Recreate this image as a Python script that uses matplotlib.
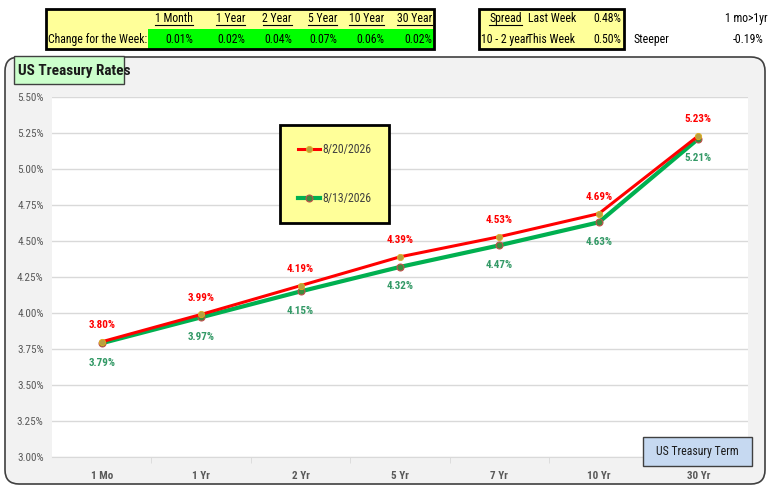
import matplotlib
matplotlib.use("Agg")
import matplotlib.pyplot as plt
from matplotlib import font_manager
from matplotlib.patches import FancyBboxPatch, Rectangle

# narrow font for the Excel look
names = {f.name for f in font_manager.fontManager.ttflist}
CHART = 'Roboto Condensed' if 'Roboto Condensed' in names else 'Liberation Sans'
NARROW = CHART

# data
terms = ['1 Mo', '1 Yr', '2 Yr', '5 Yr', '7 Yr', '10 Yr', '30 Yr']
this_week = [3.80, 3.99, 4.19, 4.39, 4.53, 4.69, 5.23]
last_week = [3.79, 3.97, 4.15, 4.32, 4.47, 4.63, 5.21]
this_label = '8/20/2026'
last_label = '8/13/2026'
yticks = [3.00, 3.25, 3.50, 3.75, 4.00, 4.25, 4.50, 4.75, 5.00, 5.25, 5.50]

chg_heads = ['1 Month', '1 Year', '2 Year', '5 Year', '10 Year', '30 Year']
chg_vals = ['0.01%', '0.02%', '0.04%', '0.07%', '0.06%', '0.02%']

W, H = 770, 487
fig = plt.figure(figsize=(W / 100, H / 100), dpi=100)
fig.patch.set_facecolor('white')

# background overlay, 1 unit = 1 pixel
bg = fig.add_axes([0, 0, 1, 1])
bg.set_xlim(0, W)
bg.set_ylim(H, 0)
bg.axis('off')

# chart frame
bg.add_patch(FancyBboxPatch((5, 57), 760, 427, boxstyle='round,pad=0,rounding_size=14',
                            facecolor='#F2F2F2', edgecolor='#404040', linewidth=1.2))
# title box
bg.add_patch(Rectangle((14, 56), 110, 28, facecolor='#CCFFCC', edgecolor='#404040', linewidth=1))
bg.text(18, 70.5, 'US Treasury Rates', fontsize=11, fontweight='bold', family=CHART,
        color='#1a1a1a', va='center', ha='left')

# top table 1
bg.add_patch(Rectangle((46, 9), 388, 40, facecolor='#FFFF99', edgecolor='none', zorder=1))
bg.add_patch(Rectangle((148, 29), 286, 20, facecolor='#00FF00', edgecolor='none', zorder=1.5))
bg.add_patch(Rectangle((46, 9), 388, 40, facecolor='none', edgecolor='black', linewidth=2, zorder=3))
col_x = [193, 245, 292, 337, 384, 432]
fig.canvas.draw()
rend = fig.canvas.get_renderer()
inv = bg.transData.inverted()
FS = 8.5


def underlined(x, y, s, ha):
    t = bg.text(x, y, s, fontsize=FS, family=NARROW, color='black', ha=ha, va='center', zorder=4)
    bb = t.get_window_extent(renderer=rend)
    (x0, _), (x1, _) = inv.transform([(bb.x0, 0), (bb.x1, 0)])
    bg.plot([x0, x1], [y + 6.5, y + 6.5], color='black', lw=0.8, zorder=4)


for x, h, v in zip(col_x, chg_heads, chg_vals):
    underlined(x, 18.5, h, 'right')
    bg.text(x, 39.5, v, fontsize=FS, family=NARROW, ha='right', va='center', zorder=4)
bg.text(147, 39.5, 'Change for the Week:', fontsize=FS, family=NARROW, ha='right', va='center', zorder=4)

# top table 2 (spread)
bg.add_patch(Rectangle((479, 9), 145, 40, facecolor='#FFFF99', edgecolor='black', linewidth=2))
underlined(489, 18.5, 'Spread', 'left')
bg.text(528, 18.5, 'Last Week', fontsize=FS, family=NARROW, ha='left', va='center')
bg.text(621, 18.5, '0.48%', fontsize=FS, family=NARROW, ha='right', va='center')
bg.text(481, 39.5, '10 - 2 year', fontsize=FS, family=NARROW, ha='left', va='center')
bg.text(527, 39.5, 'This Week', fontsize=FS, family=NARROW, ha='left', va='center')
bg.text(621, 39.5, '0.50%', fontsize=FS, family=NARROW, ha='right', va='center')
bg.text(633, 39.5, 'Steeper', fontsize=FS, family=NARROW, ha='left', va='center')
bg.text(768, 18.5, '1 mo>1yr', fontsize=FS, family=NARROW, ha='right', va='center')
bg.text(763, 39.5, '-0.19%', fontsize=FS, family=NARROW, ha='right', va='center')

# main chart
ax = fig.add_axes([52 / W, (H - 457) / H, 696 / W, 360 / H])
ax.set_facecolor('white')
x = list(range(len(terms)))
ax.plot(x, last_week, color='#00B050', lw=3, marker='o', ms=5,
        mfc='#3C8C3C', mec='#C0504D', mew=0.8, label=last_label, zorder=3)
ax.plot(x, this_week, color='#FF0000', lw=2.2, marker='o', ms=4.5,
        mfc='#B8A040', mec='#E0B020', mew=0.6, label=this_label, zorder=4)

for i, (a, b) in enumerate(zip(this_week, last_week)):
    ax.annotate(f'{a:.2f}%', (i, a), xytext=(0, 12), textcoords='offset points',
                ha='center', va='center', fontsize=8, fontweight='bold', family=CHART, color='#FF0000')
    ax.annotate(f'{b:.2f}%', (i, b), xytext=(0, -14), textcoords='offset points',
                ha='center', va='center', fontsize=8, fontweight='bold', family=CHART, color='#339966')

ax.set_xlim(-0.5, len(terms) - 0.5)
ax.set_ylim(yticks[0], yticks[-1])
ax.set_yticks(yticks)
ax.set_yticklabels([f'{v:.2f}%' for v in yticks], family=CHART, fontsize=8, color='#595959')
ax.set_xticks(x)
ax.set_xticklabels(terms, family=CHART, fontsize=8, fontweight='bold', color='#595959')
ax.set_xticks([i + 0.5 for i in x[:-1]], minor=True)
ax.tick_params(axis='y', length=0, pad=6)
ax.tick_params(axis='x', which='major', length=0, pad=10)
ax.tick_params(axis='x', which='minor', length=4, color='#D9D9D9')
ax.grid(axis='y', color='#D9D9D9', lw=1)
ax.set_axisbelow(True)
for s in ['top', 'right', 'left']:
    ax.spines[s].set_visible(False)
ax.spines['bottom'].set_color('#D9D9D9')

h, l = ax.get_legend_handles_labels()
leg = ax.legend(h[::-1], l[::-1], loc='upper left',
                bbox_to_anchor=(280 / W, 1 - 125 / H), bbox_transform=fig.transFigure,
                borderaxespad=0, borderpad=1.55, labelspacing=3.0, handlelength=1.8,
                handletextpad=0.2, fancybox=False, prop={'family': CHART, 'size': 8.5})
leg.get_frame().set_facecolor('#FFFF99')
leg.get_frame().set_edgecolor('black')
leg.get_frame().set_linewidth(2)
leg.get_frame().set_alpha(1)
for t in leg.get_texts():
    t.set_color('#404040')

# axis title box on top
fg = fig.add_axes([0, 0, 1, 1], facecolor='none')
fg.set_xlim(0, W)
fg.set_ylim(H, 0)
fg.axis('off')
fg.add_patch(Rectangle((643, 437), 109, 29, facecolor='#C6D9F1', edgecolor='#404040', linewidth=1))
fg.text(697.5, 452, 'US Treasury Term', fontsize=8.5, family=CHART, color='#1a1a1a',
        ha='center', va='center')

fig.savefig('out.png', dpi=100, facecolor='white')
